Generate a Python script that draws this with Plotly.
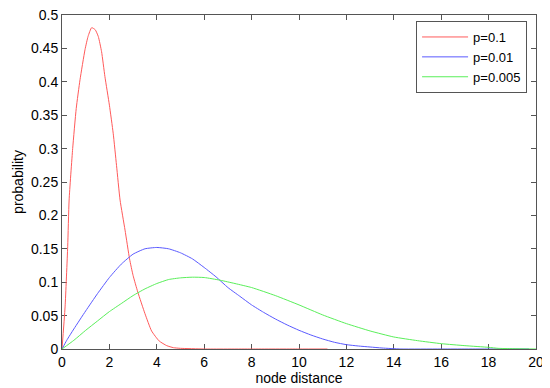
import plotly.graph_objects as go

# ---- data ----
red_x = [0, 0.13, 0.24, 0.30, 0.45, 0.60, 0.76, 0.97, 1.10, 1.25, 1.40, 1.53, 1.67, 1.81,
         2.00, 2.16, 2.30, 2.45, 2.66, 2.85, 3.00, 3.20, 3.50, 3.78, 4.10, 4.42, 4.70,
         5.00, 6.0, 8.0, 10.0, 11.2]
red_y = [0, 0.063, 0.153, 0.223, 0.300, 0.360, 0.403, 0.448, 0.468, 0.481, 0.478, 0.468,
         0.445, 0.408, 0.365, 0.323, 0.275, 0.223, 0.178, 0.135, 0.110, 0.085, 0.053,
         0.027, 0.012, 0.005, 0.002, 0.001, 0, 0, 0, 0]

blue_x = [0, 0.2, 0.5, 1.0, 1.5, 2.0, 2.5, 3.0, 3.5, 4.0, 4.5, 5.0, 5.5, 6.0, 6.5, 7.0,
          7.5, 8.0, 8.5, 9.0, 9.5, 10.0, 10.5, 11.0, 11.5, 12.0, 12.5, 13.0, 13.5, 14.3,
          16.0, 18.0, 19.7]
blue_y = [0, 0.013, 0.030, 0.057, 0.083, 0.107, 0.127, 0.142, 0.150, 0.152, 0.150, 0.144,
          0.135, 0.122, 0.108, 0.092, 0.079, 0.066, 0.055, 0.045, 0.036, 0.028, 0.021,
          0.015, 0.010, 0.0065, 0.0045, 0.003, 0.0015, 0.0, 0, 0, 0]

green_x = [0, 0.5, 1.0, 1.5, 2.0, 2.5, 3.0, 3.5, 4.0, 4.5, 5.0, 5.5, 6.0, 6.67, 7.3, 8.0,
           9.0, 10.0, 11.0, 12.0, 13.0, 14.0, 15.0, 16.0, 17.0, 18.0, 18.4, 19.0, 20.0]
green_y = [0, 0.013, 0.028, 0.042, 0.056, 0.068, 0.080, 0.090, 0.098, 0.104, 0.1065,
           0.1075, 0.107, 0.103, 0.098, 0.092, 0.080, 0.066, 0.051, 0.038, 0.027, 0.018,
           0.0125, 0.008, 0.005, 0.0025, 0.001, 0.0005, 0]

series_names = ["p=0.1", "p=0.01", "p=0.005"]
x_ticks = [0, 2, 4, 6, 8, 10, 12, 14, 16, 18, 20]
y_ticks = [0, 0.05, 0.1, 0.15, 0.2, 0.25, 0.3, 0.35, 0.4, 0.45, 0.5]
y_tick_labels = ["0", "0.05", "0.1", "0.15", "0.2", "0.25", "0.3", "0.35", "0.4", "0.45", "0.5"]

colors = ["#ff5a5a", "#5a5aff", "#5aef5a"]

fig = go.Figure()
for xs, ys, name, c in zip([red_x, blue_x, green_x], [red_y, blue_y, green_y], series_names, colors):
    fig.add_trace(go.Scatter(x=xs, y=ys, mode="lines", name=name,
                             line=dict(color=c, width=1, shape="spline", smoothing=0.5)))

font = dict(family="Liberation Sans, Arial, sans-serif", size=14, color="black")
axis_common = dict(showgrid=False, zeroline=False, showline=True, linecolor="#555555",
                   linewidth=1, mirror="allticks", ticks="inside", ticklen=5,
                   tickcolor="#555555", layer="below traces", tickfont=font,
                   automargin=False, ticklabeloverflow="allow")

# the page body has an 8px margin, so the figure is sized to fit the 550x388 window
fig.update_layout(
    width=542, height=380,
    margin=dict(l=54, r=14, t=7, b=39),
    paper_bgcolor="white", plot_bgcolor="white",
    font=font,
    showlegend=True,
    legend=dict(x=0.747, y=0.982, xanchor="left", yanchor="top",
                bgcolor="white", bordercolor="#555555", borderwidth=1,
                font=dict(family="Liberation Sans, Arial, sans-serif", size=13),
                tracegroupgap=0, itemwidth=46),
    xaxis=dict(range=[0, 20], tickvals=x_ticks,
               title=dict(text="node distance", standoff=0, font=font), **axis_common),
    yaxis=dict(range=[0, 0.5], tickvals=y_ticks, ticktext=y_tick_labels,
               title=dict(text="probability", standoff=4, font=font), **axis_common),
)

fig.write_html("out.html")
